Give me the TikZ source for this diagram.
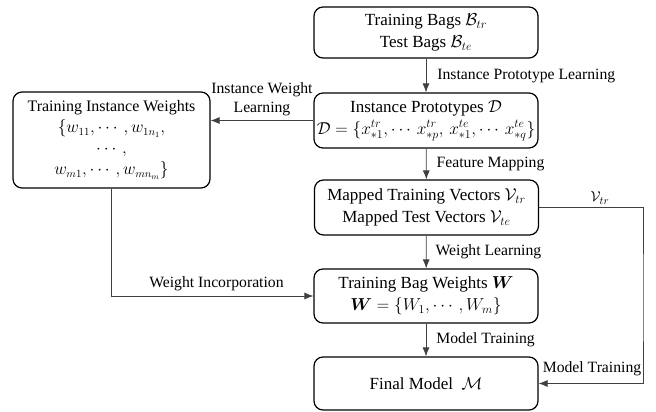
\documentclass[tikz,border=0pt]{standalone}
\usepackage{amsmath,amssymb}
\usepackage{fontspec}
\setmainfont{Liberation Serif}
\usetikzlibrary{arrows.meta}
\tikzset{
  box/.style={draw, line width=1.2pt, rounded corners=9pt, align=center, minimum width=224pt, inner sep=0pt, font=\fontsize{17}{22}\selectfont},
  conn/.style={line width=0.8pt, draw=black!75, -{Latex[length=9pt,width=7pt]}},
  lab/.style={font=\fontsize{15.7}{19.5}\selectfont, inner sep=0pt}
}
\begin{document}
\begin{tikzpicture}[x=1pt,y=-1pt]
\useasboundingbox (0,0) rectangle (656,412);
\node[box, minimum height=51pt] (b1) at (426,32.5) {Training Bags $\mathcal{B}_{tr}$\\Test Bags $\mathcal{B}_{te}$};
\node[box, minimum height=55pt] (b2) at (426,120.5) {Instance Prototypes $\mathcal{D}$\\$\mathcal{D}=\{x^{tr}_{*1},\cdots\, x^{tr}_{*p},\,x^{te}_{*1},\cdots\, x^{te}_{*q}\}$};
\node[box, minimum height=55pt] (b3) at (426.5,207.5) {Mapped Training Vectors $\mathcal{V}_{tr}$\\Mapped Test Vectors $\mathcal{V}_{te}$};
\node[box, minimum height=54pt] (b4) at (426,296) {Training Bag Weights $\boldsymbol{W}$\\$\boldsymbol{W}=\{W_1,\cdots,W_m\}$};
\node[box, minimum height=53pt] (b5) at (426,383.5) {Final Model $\ \mathcal{M}$};
\node[box, minimum width=197pt, minimum height=96pt, font=\fontsize{16}{21}\selectfont] (lw) at (111.5,140) {Training Instance Weights\\$\{w_{11},\cdots,w_{1n_1},$\\$\cdots,$\\$w_{m1},\cdots,w_{mn_m}\}$};
\draw[conn] (b1) -- (b2) node[lab, pos=0.5, anchor=west, xshift=11pt] {Instance Prototype Learning};
\draw[conn] (b2) -- (b3) node[lab, pos=0.5, anchor=west, xshift=10pt] {Feature Mapping};
\draw[conn] (b3) -- (b4) node[lab, pos=0.5, anchor=west, xshift=9pt] {Weight Learning};
\draw[conn] (b4) -- (b5) node[lab, pos=0.5, anchor=west, xshift=10pt] {Model Training};
\draw[conn] (b2.west) -- (b2.west -| lw.east) node[lab, pos=0.5, above=4pt, align=center] {Instance Weight\\Learning};
\draw[conn] (lw.south) |- (b4.west) node[lab, pos=0.76, above=5pt] {Weight Incorporation};
\coordinate (c1) at (643,300);
\draw[conn] (b3.east) -| (c1) |- (b5.east);
\node[lab] (vt) at (600,198) {$\mathcal{V}_{tr}$};
\node[lab] (mt) at (592,369) {Model Training};
\end{tikzpicture}
\end{document}
